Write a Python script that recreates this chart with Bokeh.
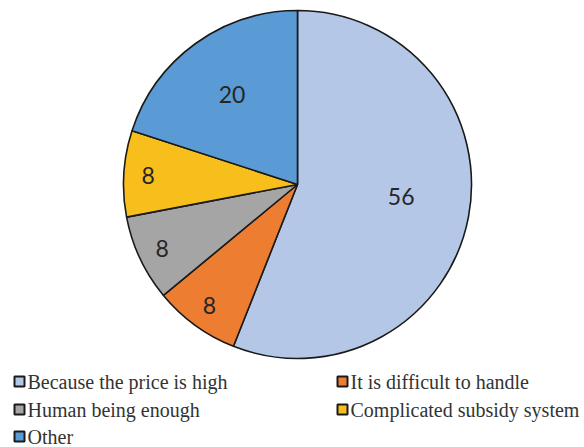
import math
from bokeh.plotting import figure
from bokeh.models import Range1d, ColumnDataSource, LabelSet
from bokeh.core.properties import value
from bokeh.embed import file_html
from bokeh.resources import INLINE

categories = ["Because the price is high", "It is difficult to handle",
              "Human being enough", "Complicated subsidy system", "Other"]
values = [56, 8, 8, 8, 20]
colors = ["#B4C7E7", "#ED7D31", "#A5A5A5", "#F8BE1C", "#5B9BD5"]

W, H = 584, 447
p = figure(width=W, height=H, output_backend="svg", toolbar_location=None,
           x_range=Range1d(0, W), y_range=Range1d(0, H), min_border=0)
p.axis.visible = False
p.grid.visible = False
p.outline_line_color = None
p.background_fill_color = "white"

cx, cy, R = 297, H - 184, 174
total = sum(values)
starts, ends, lx, ly, labels = [], [], [], [], []
cum = 0
for v in values:
    a0 = math.pi / 2 - cum / total * 2 * math.pi
    cum += v
    a1 = math.pi / 2 - cum / total * 2 * math.pi
    starts.append(a0)
    ends.append(a1)
    mid = (a0 + a1) / 2
    f = 0.86 if v < 10 else 0.64
    if v > 50:
        mid += 0.07
        f = 0.6
    lx.append(cx + f * R * math.cos(mid))
    ly.append(cy + f * R * math.sin(mid))
    labels.append(str(v))

src = ColumnDataSource(dict(start=starts, end=ends, color=colors))
p.wedge(x=cx, y=cy, radius=R, start_angle="start", end_angle="end",
        direction="clock", fill_color="color", line_color="#1a1a1a",
        line_width=1.6, source=src)

# legend
col_x = [19, 342]
row_y = [381, 409, 436]
sx, sy, tx, ty = [], [], [], []
for i in range(len(categories)):
    c, r = i % 2, i // 2
    sx.append(col_x[c])
    sy.append(H - row_y[r])
    tx.append(col_x[c] + 8)
    ty.append(H - row_y[r])
p.rect(x=sx, y=sy, width=10, height=10, fill_color=colors,
       line_color="#1a1a1a", line_width=2)
leg_src = ColumnDataSource(dict(x=tx, y=ty, t=categories))
p.add_layout(LabelSet(x="x", y="y", text="t", source=leg_src,
                      text_align="left", text_baseline="middle",
                      text_font=value("Liberation Serif"),
                      text_font_size="20px", text_color="#333333"))

lab_src = ColumnDataSource(dict(x=lx, y=ly, t=labels))
p.add_layout(LabelSet(x="x", y="y", text="t", source=lab_src,
                      text_align="center", text_baseline="middle",
                      text_font=value("Lato"), text_font_size="23px",
                      text_color="#262626"))

open("out.html", "w").write(file_html(p, INLINE))
